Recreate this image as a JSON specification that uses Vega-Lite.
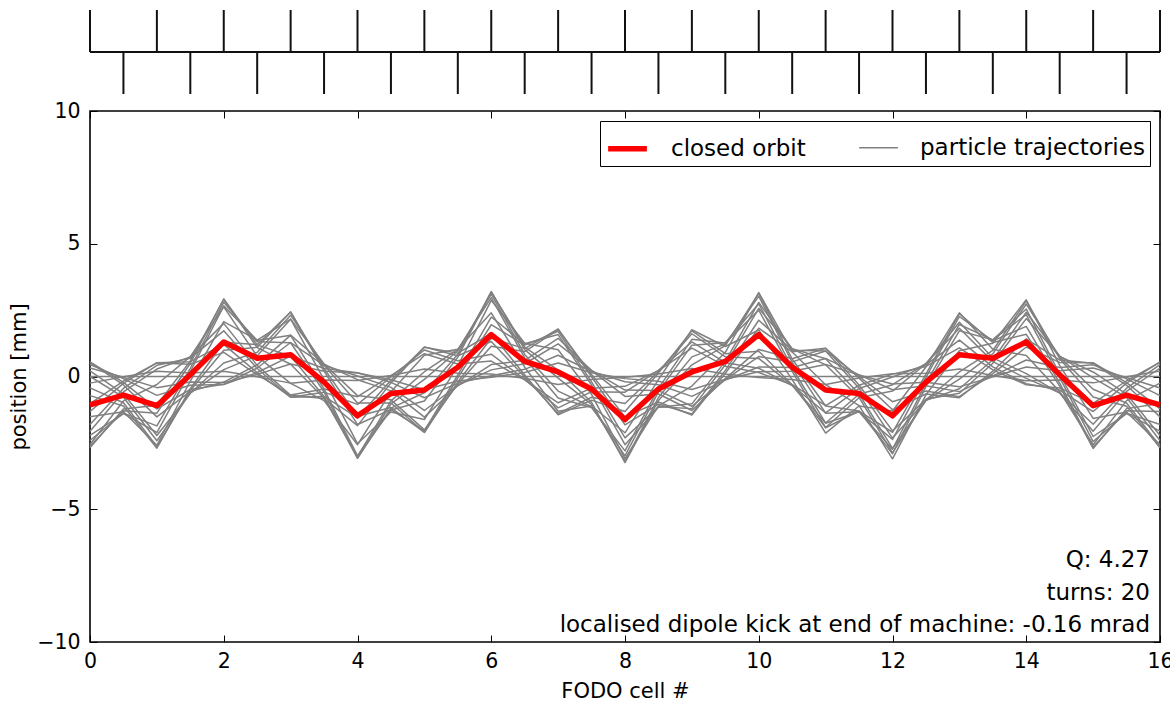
{
  "$schema": "https://vega.github.io/schema/vega-lite/v6.json",
  "padding": {"left": 7, "top": 9, "right": 0, "bottom": 0},
  "spacing": 17,
  "bounds": "flush",
  "resolve": {"legend": {"color": "independent", "strokeWidth": "independent"}},
  "config": {
    "font": "DejaVu Sans",
    "view": {"stroke": "black", "strokeWidth": 1.6},
    "axis": {"grid": false, "domain": false, "tickSize": -7, "tickColor": "black", "tickWidth": 1, "labelFlush": false, "labelFontSize": 20.5, "labelColor": "black", "labelFont": "DejaVu Sans", "titleFontSize": 21, "titleFontWeight": "normal", "titleColor": "black", "titleFont": "DejaVu Sans"},
    "legend": {"orient": "top-right", "offset": 10, "direction": "horizontal", "symbolType": "stroke", "symbolSize": 1500, "labelFontSize": 23, "labelColor": "black", "labelFont": "DejaVu Sans", "strokeColor": "black", "fillColor": "white", "padding": 5, "columnPadding": 50, "labelOffset": 21, "labelLimit": 500}
  },
  "vconcat": [
    {
      "width": 1070,
      "height": 84,
      "view": {"stroke": null},
      "data": {"values": [
        {"s": 0, "q": "F"}, {"s": 1, "q": "F"}, {"s": 2, "q": "F"}, {"s": 3, "q": "F"}, {"s": 4, "q": "F"}, {"s": 5, "q": "F"}, {"s": 6, "q": "F"}, {"s": 7, "q": "F"}, {"s": 8, "q": "F"}, {"s": 9, "q": "F"}, {"s": 10, "q": "F"}, {"s": 11, "q": "F"}, {"s": 12, "q": "F"}, {"s": 13, "q": "F"}, {"s": 14, "q": "F"}, {"s": 15, "q": "F"}, {"s": 16, "q": "F"},
        {"s": 0.5, "q": "D"}, {"s": 1.5, "q": "D"}, {"s": 2.5, "q": "D"}, {"s": 3.5, "q": "D"}, {"s": 4.5, "q": "D"}, {"s": 5.5, "q": "D"}, {"s": 6.5, "q": "D"}, {"s": 7.5, "q": "D"}, {"s": 8.5, "q": "D"}, {"s": 9.5, "q": "D"}, {"s": 10.5, "q": "D"}, {"s": 11.5, "q": "D"}, {"s": 12.5, "q": "D"}, {"s": 13.5, "q": "D"}, {"s": 14.5, "q": "D"}, {"s": 15.5, "q": "D"}
      ]},
      "layer": [
        {
          "transform": [{"filter": "datum.q === 'F'"}],
          "mark": {"type": "rule", "color": "#111111", "strokeWidth": 2},
          "encoding": {
            "x": {"field": "s", "type": "quantitative", "scale": {"domain": [0, 16], "nice": false, "zero": false}, "axis": null},
            "y": {"datum": 0, "type": "quantitative", "scale": {"domain": [-1, 1], "nice": false}, "axis": null},
            "y2": {"datum": 1}
          }
        },
        {
          "transform": [{"filter": "datum.q === 'D'"}],
          "mark": {"type": "rule", "color": "#111111", "strokeWidth": 2},
          "encoding": {
            "x": {"field": "s", "type": "quantitative", "axis": null},
            "y": {"datum": -1, "type": "quantitative", "axis": null},
            "y2": {"datum": 0}
          }
        },
        {
          "data": {"values": [{}]},
          "mark": {"type": "rule", "color": "#111111", "strokeWidth": 2},
          "encoding": {
            "x": {"datum": 0, "type": "quantitative", "axis": null},
            "x2": {"datum": 16},
            "y": {"datum": 0, "type": "quantitative", "axis": null}
          }
        }
      ]
    },
    {
      "width": 1070,
      "height": 531,
      "layer": [
        {
          "data": {"values": [
{"t":0,"s":0,"x":0},{"t":0,"s":0.5,"x":0},{"t":0,"s":1,"x":0},{"t":0,"s":1.5,"x":0},{"t":0,"s":2,"x":0},{"t":0,"s":2.5,"x":0},{"t":0,"s":3,"x":0},{"t":0,"s":3.5,"x":0},{"t":0,"s":4,"x":0},{"t":0,"s":4.5,"x":0},{"t":0,"s":5,"x":0},{"t":0,"s":5.5,"x":0},{"t":0,"s":6,"x":0},{"t":0,"s":6.5,"x":0},{"t":0,"s":7,"x":0},{"t":0,"s":7.5,"x":0},{"t":0,"s":8,"x":0},{"t":0,"s":8.5,"x":0},{"t":0,"s":9,"x":0},{"t":0,"s":9.5,"x":0},{"t":0,"s":10,"x":0},{"t":0,"s":10.5,"x":0},{"t":0,"s":11,"x":0},{"t":0,"s":11.5,"x":0},{"t":0,"s":12,"x":0},{"t":0,"s":12.5,"x":0},{"t":0,"s":13,"x":0},{"t":0,"s":13.5,"x":0},{"t":0,"s":14,"x":0},{"t":0,"s":14.5,"x":0},{"t":0,"s":15,"x":0},{"t":0,"s":15.5,"x":0},{"t":0,"s":16,"x":0},
{"t":1,"s":0,"x":0.00},{"t":1,"s":0.5,"x":-0.78},{"t":1,"s":1,"x":-2.42},{"t":1,"s":1.5,"x":-0.62},{"t":1,"s":2,"x":0.51},{"t":1,"s":2.5,"x":0.91},{"t":1,"s":3,"x":2.31},{"t":1,"s":3.5,"x":0.42},{"t":1,"s":4,"x":-1.00},{"t":1,"s":4.5,"x":-1.00},{"t":1,"s":5,"x":-2.10},{"t":1,"s":5.5,"x":-0.21},{"t":1,"s":6,"x":1.44},{"t":1,"s":6.5,"x":1.05},{"t":1,"s":7,"x":1.79},{"t":1,"s":7.5,"x":-0.01},{"t":1,"s":8,"x":-1.82},{"t":1,"s":8.5,"x":-1.04},{"t":1,"s":9,"x":-1.41},{"t":1,"s":9.5,"x":0.23},{"t":1,"s":10,"x":2.12},{"t":1,"s":10.5,"x":0.99},{"t":1,"s":11,"x":0.96},{"t":1,"s":11.5,"x":-0.44},{"t":1,"s":12,"x":-2.32},{"t":1,"s":12.5,"x":-0.90},{"t":1,"s":13,"x":-0.46},{"t":1,"s":13.5,"x":0.63},{"t":1,"s":14,"x":2.42},{"t":1,"s":14.5,"x":0.77},{"t":1,"s":15,"x":-0.05},{"t":1,"s":15.5,"x":-0.79},{"t":1,"s":16,"x":-2.41},
{"t":2,"s":0,"x":-2.41},{"t":2,"s":0.5,"x":-1.38},{"t":2,"s":1,"x":-1.86},{"t":2,"s":1.5,"x":0.31},{"t":2,"s":2,"x":2.80},{"t":2,"s":2.5,"x":1.31},{"t":2,"s":3,"x":1.27},{"t":2,"s":3.5,"x":-0.58},{"t":2,"s":4,"x":-3.07},{"t":2,"s":4.5,"x":-1.19},{"t":2,"s":5,"x":-0.61},{"t":2,"s":5.5,"x":0.84},{"t":2,"s":6,"x":3.20},{"t":2,"s":6.5,"x":1.01},{"t":2,"s":7,"x":-0.06},{"t":2,"s":7.5,"x":-1.05},{"t":2,"s":8,"x":-3.19},{"t":2,"s":8.5,"x":-0.79},{"t":2,"s":9,"x":0.74},{"t":2,"s":9.5,"x":1.22},{"t":2,"s":10,"x":3.03},{"t":2,"s":10.5,"x":0.53},{"t":2,"s":11,"x":-1.38},{"t":2,"s":11.5,"x":-1.33},{"t":2,"s":12,"x":-2.74},{"t":2,"s":12.5,"x":-0.25},{"t":2,"s":13,"x":1.96},{"t":2,"s":13.5,"x":1.38},{"t":2,"s":14,"x":2.33},{"t":2,"s":14.5,"x":-0.04},{"t":2,"s":15,"x":-2.45},{"t":2,"s":15.5,"x":-1.38},{"t":2,"s":16,"x":-1.81},
{"t":3,"s":0,"x":-1.81},{"t":3,"s":0.5,"x":-0.45},{"t":3,"s":1,"x":0.42},{"t":3,"s":1.5,"x":0.69},{"t":3,"s":2,"x":1.72},{"t":3,"s":2.5,"x":0.30},{"t":3,"s":3,"x":-0.78},{"t":3,"s":3.5,"x":-0.75},{"t":3,"s":4,"x":-1.55},{"t":3,"s":4.5,"x":-0.14},{"t":3,"s":5,"x":1.11},{"t":3,"s":5.5,"x":0.78},{"t":3,"s":6,"x":1.32},{"t":3,"s":6.5,"x":-0.02},{"t":3,"s":7,"x":-1.39},{"t":3,"s":7.5,"x":-0.78},{"t":3,"s":8,"x":-1.02},{"t":3,"s":8.5,"x":0.19},{"t":3,"s":9,"x":1.61},{"t":3,"s":9.5,"x":0.74},{"t":3,"s":10,"x":0.68},{"t":3,"s":10.5,"x":-0.34},{"t":3,"s":11,"x":-1.75},{"t":3,"s":11.5,"x":-0.67},{"t":3,"s":12,"x":-0.31},{"t":3,"s":12.5,"x":0.49},{"t":3,"s":13,"x":1.82},{"t":3,"s":13.5,"x":0.56},{"t":3,"s":14,"x":-0.07},{"t":3,"s":14.5,"x":-0.61},{"t":3,"s":15,"x":-1.80},{"t":3,"s":15.5,"x":-0.44},{"t":3,"s":16,"x":0.45},
{"t":4,"s":0,"x":0.45},{"t":4,"s":0.5,"x":-0.08},{"t":4,"s":1,"x":-0.71},{"t":4,"s":1.5,"x":-0.33},{"t":4,"s":2,"x":-0.30},{"t":4,"s":2.5,"x":0.15},{"t":4,"s":3,"x":0.77},{"t":4,"s":3.5,"x":0.30},{"t":4,"s":4,"x":0.14},{"t":4,"s":4.5,"x":-0.22},{"t":4,"s":5,"x":-0.80},{"t":4,"s":5.5,"x":-0.25},{"t":4,"s":6,"x":0.03},{"t":4,"s":6.5,"x":0.27},{"t":4,"s":7,"x":0.80},{"t":4,"s":7.5,"x":0.19},{"t":4,"s":8,"x":-0.20},{"t":4,"s":8.5,"x":-0.31},{"t":4,"s":9,"x":-0.75},{"t":4,"s":9.5,"x":-0.13},{"t":4,"s":10,"x":0.36},{"t":4,"s":10.5,"x":0.34},{"t":4,"s":11,"x":0.68},{"t":4,"s":11.5,"x":0.06},{"t":4,"s":12,"x":-0.50},{"t":4,"s":12.5,"x":-0.35},{"t":4,"s":13,"x":-0.57},{"t":4,"s":13.5,"x":0.02},{"t":4,"s":14,"x":0.62},{"t":4,"s":14.5,"x":0.34},{"t":4,"s":15,"x":0.44},{"t":4,"s":15.5,"x":-0.09},{"t":4,"s":16,"x":-0.72},
{"t":5,"s":0,"x":-0.72},{"t":5,"s":0.5,"x":-1.11},{"t":5,"s":1,"x":-2.70},{"t":5,"s":1.5,"x":-0.46},{"t":5,"s":2,"x":1.29},{"t":5,"s":2.5,"x":1.20},{"t":5,"s":3,"x":2.43},{"t":5,"s":3.5,"x":0.20},{"t":5,"s":4,"x":-1.81},{"t":5,"s":4.5,"x":-1.25},{"t":5,"s":5,"x":-2.05},{"t":5,"s":5.5,"x":0.06},{"t":5,"s":6,"x":2.24},{"t":5,"s":6.5,"x":1.23},{"t":5,"s":7,"x":1.58},{"t":5,"s":7.5,"x":-0.32},{"t":5,"s":8,"x":-2.57},{"t":5,"s":8.5,"x":-1.16},{"t":5,"s":9,"x":-1.03},{"t":5,"s":9.5,"x":0.57},{"t":5,"s":10,"x":2.79},{"t":5,"s":10.5,"x":1.04},{"t":5,"s":11,"x":0.44},{"t":5,"s":11.5,"x":-0.79},{"t":5,"s":12,"x":-2.88},{"t":5,"s":12.5,"x":-0.88},{"t":5,"s":13,"x":0.17},{"t":5,"s":13.5,"x":0.98},{"t":5,"s":14,"x":2.85},{"t":5,"s":14.5,"x":0.67},{"t":5,"s":15,"x":-0.77},{"t":5,"s":15.5,"x":-1.12},{"t":5,"s":16,"x":-2.68},
{"t":6,"s":0,"x":-2.68},{"t":6,"s":0.5,"x":-1.22},{"t":6,"s":1,"x":-1.08},{"t":6,"s":1.5,"x":0.59},{"t":6,"s":2,"x":2.91},{"t":6,"s":2.5,"x":1.09},{"t":6,"s":3,"x":0.46},{"t":6,"s":3.5,"x":-0.82},{"t":6,"s":4,"x":-3.01},{"t":6,"s":4.5,"x":-0.92},{"t":6,"s":5,"x":0.18},{"t":6,"s":5.5,"x":1.02},{"t":6,"s":6,"x":2.97},{"t":6,"s":6.5,"x":0.70},{"t":6,"s":7,"x":-0.81},{"t":6,"s":7.5,"x":-1.17},{"t":6,"s":8,"x":-2.80},{"t":6,"s":8.5,"x":-0.45},{"t":6,"s":9,"x":1.40},{"t":6,"s":9.5,"x":1.26},{"t":6,"s":10,"x":2.50},{"t":6,"s":10.5,"x":0.19},{"t":6,"s":11,"x":-1.93},{"t":6,"s":11.5,"x":-1.30},{"t":6,"s":12,"x":-2.10},{"t":6,"s":12.5,"x":0.09},{"t":6,"s":13,"x":2.37},{"t":6,"s":13.5,"x":1.28},{"t":6,"s":14,"x":1.59},{"t":6,"s":14.5,"x":-0.36},{"t":6,"s":15,"x":-2.71},{"t":6,"s":15.5,"x":-1.21},{"t":6,"s":16,"x":-1.02},
{"t":7,"s":0,"x":-1.02},{"t":7,"s":0.5,"x":-0.17},{"t":7,"s":1,"x":0.51},{"t":7,"s":1.5,"x":0.46},{"t":7,"s":2,"x":0.91},{"t":7,"s":2.5,"x":0.07},{"t":7,"s":3,"x":-0.70},{"t":7,"s":3.5,"x":-0.47},{"t":7,"s":4,"x":-0.76},{"t":7,"s":4.5,"x":0.03},{"t":7,"s":5,"x":0.86},{"t":7,"s":5.5,"x":0.47},{"t":7,"s":6,"x":0.58},{"t":7,"s":6.5,"x":-0.13},{"t":7,"s":7,"x":-0.99},{"t":7,"s":7.5,"x":-0.44},{"t":7,"s":8,"x":-0.37},{"t":7,"s":8.5,"x":0.22},{"t":7,"s":9,"x":1.07},{"t":7,"s":9.5,"x":0.39},{"t":7,"s":10,"x":0.15},{"t":7,"s":10.5,"x":-0.31},{"t":7,"s":11,"x":-1.10},{"t":7,"s":11.5,"x":-0.33},{"t":7,"s":12,"x":0.09},{"t":7,"s":12.5,"x":0.38},{"t":7,"s":13,"x":1.08},{"t":7,"s":13.5,"x":0.25},{"t":7,"s":14,"x":-0.31},{"t":7,"s":14.5,"x":-0.43},{"t":7,"s":15,"x":-1.01},{"t":7,"s":15.5,"x":-0.16},{"t":7,"s":16,"x":0.53},
{"t":8,"s":0,"x":0.53},{"t":8,"s":0.5,"x":-0.32},{"t":8,"s":1,"x":-1.52},{"t":8,"s":1.5,"x":-0.56},{"t":8,"s":2,"x":-0.21},{"t":8,"s":2.5,"x":0.44},{"t":8,"s":3,"x":1.56},{"t":8,"s":3.5,"x":0.46},{"t":8,"s":4,"x":-0.12},{"t":8,"s":4.5,"x":-0.54},{"t":8,"s":5,"x":-1.53},{"t":8,"s":5.5,"x":-0.35},{"t":8,"s":6,"x":0.45},{"t":8,"s":6.5,"x":0.61},{"t":8,"s":7,"x":1.44},{"t":8,"s":7.5,"x":0.22},{"t":8,"s":8,"x":-0.75},{"t":8,"s":8.5,"x":-0.66},{"t":8,"s":9,"x":-1.28},{"t":8,"s":9.5,"x":-0.08},{"t":8,"s":10,"x":1.02},{"t":8,"s":10.5,"x":0.67},{"t":8,"s":11,"x":1.06},{"t":8,"s":11.5,"x":-0.06},{"t":8,"s":12,"x":-1.25},{"t":8,"s":12.5,"x":-0.66},{"t":8,"s":13,"x":-0.80},{"t":8,"s":13.5,"x":0.20},{"t":8,"s":14,"x":1.42},{"t":8,"s":14.5,"x":0.62},{"t":8,"s":15,"x":0.50},{"t":8,"s":15.5,"x":-0.33},{"t":8,"s":16,"x":-1.52},
{"t":9,"s":0,"x":-1.52},{"t":9,"s":0.5,"x":-1.33},{"t":9,"s":1,"x":-2.59},{"t":9,"s":1.5,"x":-0.17},{"t":9,"s":2,"x":2.07},{"t":9,"s":2.5,"x":1.37},{"t":9,"s":3,"x":2.16},{"t":9,"s":3.5,"x":-0.12},{"t":9,"s":4,"x":-2.53},{"t":9,"s":4.5,"x":-1.34},{"t":9,"s":5,"x":-1.62},{"t":9,"s":5.5,"x":0.40},{"t":9,"s":6,"x":2.87},{"t":9,"s":6.5,"x":1.25},{"t":9,"s":7,"x":1.01},{"t":9,"s":7.5,"x":-0.67},{"t":9,"s":8,"x":-3.09},{"t":9,"s":8.5,"x":-1.11},{"t":9,"s":9,"x":-0.36},{"t":9,"s":9.5,"x":0.91},{"t":9,"s":10,"x":3.16},{"t":9,"s":10.5,"x":0.92},{"t":9,"s":11,"x":-0.31},{"t":9,"s":11.5,"x":-1.10},{"t":9,"s":12,"x":-3.10},{"t":9,"s":12.5,"x":-0.69},{"t":9,"s":13,"x":0.97},{"t":9,"s":13.5,"x":1.25},{"t":9,"s":14,"x":2.89},{"t":9,"s":14.5,"x":0.42},{"t":9,"s":15,"x":-1.58},{"t":9,"s":15.5,"x":-1.34},{"t":9,"s":16,"x":-2.56},
{"t":10,"s":0,"x":-2.56},{"t":10,"s":0.5,"x":-0.92},{"t":10,"s":1,"x":-0.30},{"t":10,"s":1.5,"x":0.75},{"t":10,"s":2,"x":2.62},{"t":10,"s":2.5,"x":0.76},{"t":10,"s":3,"x":-0.26},{"t":10,"s":3.5,"x":-0.91},{"t":10,"s":4,"x":-2.57},{"t":10,"s":4.5,"x":-0.57},{"t":10,"s":5,"x":0.80},{"t":10,"s":5.5,"x":1.03},{"t":10,"s":6,"x":2.40},{"t":10,"s":6.5,"x":0.35},{"t":10,"s":7,"x":-1.31},{"t":10,"s":7.5,"x":-1.11},{"t":10,"s":8,"x":-2.12},{"t":10,"s":8.5,"x":-0.12},{"t":10,"s":9,"x":1.76},{"t":10,"s":9.5,"x":1.13},{"t":10,"s":10,"x":1.75},{"t":10,"s":10.5,"x":-0.12},{"t":10,"s":11,"x":-2.13},{"t":10,"s":11.5,"x":-1.11},{"t":10,"s":12,"x":-1.30},{"t":10,"s":12.5,"x":0.36},{"t":10,"s":13,"x":2.40},{"t":10,"s":13.5,"x":1.03},{"t":10,"s":14,"x":0.79},{"t":10,"s":14.5,"x":-0.57},{"t":10,"s":15,"x":-2.57},{"t":10,"s":15.5,"x":-0.91},{"t":10,"s":16,"x":-0.25},
{"t":11,"s":0,"x":-0.25},{"t":11,"s":0.5,"x":-0.01},{"t":11,"s":1,"x":0.20},{"t":11,"s":1.5,"x":0.13},{"t":11,"s":2,"x":0.20},{"t":11,"s":2.5,"x":-0.01},{"t":11,"s":3,"x":-0.25},{"t":11,"s":3.5,"x":-0.13},{"t":11,"s":4,"x":-0.15},{"t":11,"s":4.5,"x":0.04},{"t":11,"s":5,"x":0.28},{"t":11,"s":5.5,"x":0.12},{"t":11,"s":6,"x":0.09},{"t":11,"s":6.5,"x":-0.07},{"t":11,"s":7,"x":-0.30},{"t":11,"s":7.5,"x":-0.11},{"t":11,"s":8,"x":-0.03},{"t":11,"s":8.5,"x":0.09},{"t":11,"s":9,"x":0.30},{"t":11,"s":9.5,"x":0.09},{"t":11,"s":10,"x":-0.04},{"t":11,"s":10.5,"x":-0.11},{"t":11,"s":11,"x":-0.30},{"t":11,"s":11.5,"x":-0.06},{"t":11,"s":12,"x":0.10},{"t":11,"s":12.5,"x":0.12},{"t":11,"s":13,"x":0.28},{"t":11,"s":13.5,"x":0.04},{"t":11,"s":14,"x":-0.16},{"t":11,"s":14.5,"x":-0.13},{"t":11,"s":15,"x":-0.24},{"t":11,"s":15.5,"x":-0.01},{"t":11,"s":16,"x":0.21},
{"t":12,"s":0,"x":0.21},{"t":12,"s":0.5,"x":-0.65},{"t":12,"s":1,"x":-2.22},{"t":12,"s":1.5,"x":-0.63},{"t":12,"s":2,"x":0.26},{"t":12,"s":2.5,"x":0.78},{"t":12,"s":3,"x":2.16},{"t":12,"s":3.5,"x":0.47},{"t":12,"s":4,"x":-0.72},{"t":12,"s":4.5,"x":-0.88},{"t":12,"s":5,"x":-2.01},{"t":12,"s":5.5,"x":-0.28},{"t":12,"s":6,"x":1.14},{"t":12,"s":6.5,"x":0.94},{"t":12,"s":7,"x":1.77},{"t":12,"s":7.5,"x":0.08},{"t":12,"s":8,"x":-1.52},{"t":12,"s":8.5,"x":-0.96},{"t":12,"s":9,"x":-1.45},{"t":12,"s":9.5,"x":0.12},{"t":12,"s":10,"x":1.82},{"t":12,"s":10.5,"x":0.93},{"t":12,"s":11,"x":1.06},{"t":12,"s":11.5,"x":-0.32},{"t":12,"s":12,"x":-2.05},{"t":12,"s":12.5,"x":-0.86},{"t":12,"s":13,"x":-0.63},{"t":12,"s":13.5,"x":0.50},{"t":12,"s":14,"x":2.18},{"t":12,"s":14.5,"x":0.76},{"t":12,"s":15,"x":0.17},{"t":12,"s":15.5,"x":-0.66},{"t":12,"s":16,"x":-2.22},
{"t":13,"s":0,"x":-2.22},{"t":13,"s":0.5,"x":-1.40},{"t":13,"s":1,"x":-2.11},{"t":13,"s":1.5,"x":0.18},{"t":13,"s":2,"x":2.66},{"t":13,"s":2.5,"x":1.36},{"t":13,"s":3,"x":1.55},{"t":13,"s":3.5,"x":-0.47},{"t":13,"s":4,"x":-2.99},{"t":13,"s":4.5,"x":-1.26},{"t":13,"s":5,"x":-0.92},{"t":13,"s":5.5,"x":0.73},{"t":13,"s":6,"x":3.19},{"t":13,"s":6.5,"x":1.11},{"t":13,"s":7,"x":0.24},{"t":13,"s":7.5,"x":-0.97},{"t":13,"s":8,"x":-3.24},{"t":13,"s":8.5,"x":-0.90},{"t":13,"s":9,"x":0.44},{"t":13,"s":9.5,"x":1.16},{"t":13,"s":10,"x":3.14},{"t":13,"s":10.5,"x":0.66},{"t":13,"s":11,"x":-1.11},{"t":13,"s":11.5,"x":-1.30},{"t":13,"s":12,"x":-2.91},{"t":13,"s":12.5,"x":-0.38},{"t":13,"s":13,"x":1.72},{"t":13,"s":13.5,"x":1.38},{"t":13,"s":14,"x":2.54},{"t":13,"s":14.5,"x":0.09},{"t":13,"s":15,"x":-2.26},{"t":13,"s":15.5,"x":-1.40},{"t":13,"s":16,"x":-2.06},
{"t":14,"s":0,"x":-2.06},{"t":14,"s":0.5,"x":-0.58},{"t":14,"s":1,"x":0.28},{"t":14,"s":1.5,"x":0.74},{"t":14,"s":2,"x":2.00},{"t":14,"s":2.5,"x":0.42},{"t":14,"s":3,"x":-0.71},{"t":14,"s":3.5,"x":-0.83},{"t":14,"s":4,"x":-1.85},{"t":14,"s":4.5,"x":-0.24},{"t":14,"s":5,"x":1.10},{"t":14,"s":5.5,"x":0.88},{"t":14,"s":6,"x":1.62},{"t":14,"s":6.5,"x":0.06},{"t":14,"s":7,"x":-1.44},{"t":14,"s":7.5,"x":-0.89},{"t":14,"s":8,"x":-1.32},{"t":14,"s":8.5,"x":0.13},{"t":14,"s":9,"x":1.72},{"t":14,"s":9.5,"x":0.86},{"t":14,"s":10,"x":0.95},{"t":14,"s":10.5,"x":-0.31},{"t":14,"s":11,"x":-1.92},{"t":14,"s":11.5,"x":-0.80},{"t":14,"s":12,"x":-0.55},{"t":14,"s":12.5,"x":0.48},{"t":14,"s":13,"x":2.04},{"t":14,"s":13.5,"x":0.70},{"t":14,"s":14,"x":0.11},{"t":14,"s":14.5,"x":-0.63},{"t":14,"s":15,"x":-2.06},{"t":14,"s":15.5,"x":-0.56},{"t":14,"s":16,"x":0.32},
{"t":15,"s":0,"x":0.32},{"t":15,"s":0.5,"x":-0.03},{"t":15,"s":1,"x":-0.42},{"t":15,"s":1.5,"x":-0.21},{"t":15,"s":2,"x":-0.23},{"t":15,"s":2.5,"x":0.08},{"t":15,"s":3,"x":0.47},{"t":15,"s":3.5,"x":0.20},{"t":15,"s":4,"x":0.13},{"t":15,"s":4.5,"x":-0.12},{"t":15,"s":5,"x":-0.50},{"t":15,"s":5.5,"x":-0.17},{"t":15,"s":6,"x":-0.03},{"t":15,"s":6.5,"x":0.15},{"t":15,"s":7,"x":0.51},{"t":15,"s":7.5,"x":0.14},{"t":15,"s":8,"x":-0.08},{"t":15,"s":8.5,"x":-0.18},{"t":15,"s":9,"x":-0.49},{"t":15,"s":9.5,"x":-0.10},{"t":15,"s":10,"x":0.18},{"t":15,"s":10.5,"x":0.20},{"t":15,"s":11,"x":0.45},{"t":15,"s":11.5,"x":0.06},{"t":15,"s":12,"x":-0.28},{"t":15,"s":12.5,"x":-0.22},{"t":15,"s":13,"x":-0.39},{"t":15,"s":13.5,"x":-0.01},{"t":15,"s":14,"x":0.36},{"t":15,"s":14.5,"x":0.22},{"t":15,"s":15,"x":0.32},{"t":15,"s":15.5,"x":-0.04},{"t":15,"s":16,"x":-0.43},
{"t":16,"s":0,"x":-0.43},{"t":16,"s":0.5,"x":-0.99},{"t":16,"s":1,"x":-2.64},{"t":16,"s":1.5,"x":-0.53},{"t":16,"s":2,"x":0.99},{"t":16,"s":2.5,"x":1.10},{"t":16,"s":3,"x":2.43},{"t":16,"s":3.5,"x":0.30},{"t":16,"s":4,"x":-1.50},{"t":16,"s":4.5,"x":-1.17},{"t":16,"s":5,"x":-2.11},{"t":16,"s":5.5,"x":-0.05},{"t":16,"s":6,"x":1.95},{"t":16,"s":6.5,"x":1.18},{"t":16,"s":7,"x":1.70},{"t":16,"s":7.5,"x":-0.20},{"t":16,"s":8,"x":-2.31},{"t":16,"s":8.5,"x":-1.14},{"t":16,"s":9,"x":-1.21},{"t":16,"s":9.5,"x":0.44},{"t":16,"s":10,"x":2.57},{"t":16,"s":10.5,"x":1.05},{"t":16,"s":11,"x":0.67},{"t":16,"s":11.5,"x":-0.66},{"t":16,"s":12,"x":-2.71},{"t":16,"s":12.5,"x":-0.91},{"t":16,"s":13,"x":-0.10},{"t":16,"s":13.5,"x":0.85},{"t":16,"s":14,"x":2.73},{"t":16,"s":14.5,"x":0.73},{"t":16,"s":15,"x":-0.48},{"t":16,"s":15.5,"x":-1.00},{"t":16,"s":16,"x":-2.63},
{"t":17,"s":0,"x":-2.63},{"t":17,"s":0.5,"x":-1.29},{"t":17,"s":1,"x":-1.38},{"t":17,"s":1.5,"x":0.50},{"t":17,"s":2,"x":2.92},{"t":17,"s":2.5,"x":1.19},{"t":17,"s":3,"x":0.76},{"t":17,"s":3.5,"x":-0.75},{"t":17,"s":4,"x":-3.08},{"t":17,"s":4.5,"x":-1.03},{"t":17,"s":5,"x":-0.11},{"t":17,"s":5.5,"x":0.97},{"t":17,"s":6,"x":3.10},{"t":17,"s":6.5,"x":0.83},{"t":17,"s":7,"x":-0.55},{"t":17,"s":7.5,"x":-1.14},{"t":17,"s":8,"x":-2.99},{"t":17,"s":8.5,"x":-0.58},{"t":17,"s":9,"x":1.18},{"t":17,"s":9.5,"x":1.27},{"t":17,"s":10,"x":2.74},{"t":17,"s":10.5,"x":0.32},{"t":17,"s":11,"x":-1.76},{"t":17,"s":11.5,"x":-1.33},{"t":17,"s":12,"x":-2.37},{"t":17,"s":12.5,"x":-0.03},{"t":17,"s":13,"x":2.26},{"t":17,"s":13.5,"x":1.34},{"t":17,"s":14,"x":1.89},{"t":17,"s":14.5,"x":-0.25},{"t":17,"s":15,"x":-2.66},{"t":17,"s":15.5,"x":-1.29},{"t":17,"s":16,"x":-1.32},
{"t":18,"s":0,"x":-1.32},{"t":18,"s":0.5,"x":-0.26},{"t":18,"s":1,"x":0.52},{"t":18,"s":1.5,"x":0.56},{"t":18,"s":2,"x":1.21},{"t":18,"s":2.5,"x":0.14},{"t":18,"s":3,"x":-0.78},{"t":18,"s":3.5,"x":-0.59},{"t":18,"s":4,"x":-1.05},{"t":18,"s":4.5,"x":-0.02},{"t":18,"s":5,"x":1.00},{"t":18,"s":5.5,"x":0.59},{"t":18,"s":6,"x":0.84},{"t":18,"s":6.5,"x":-0.11},{"t":18,"s":7,"x":-1.18},{"t":18,"s":7.5,"x":-0.57},{"t":18,"s":8,"x":-0.59},{"t":18,"s":8.5,"x":0.23},{"t":18,"s":9,"x":1.30},{"t":18,"s":9.5,"x":0.52},{"t":18,"s":10,"x":0.31},{"t":18,"s":10.5,"x":-0.34},{"t":18,"s":11,"x":-1.37},{"t":18,"s":11.5,"x":-0.45},{"t":18,"s":12,"x":-0.02},{"t":18,"s":12.5,"x":0.44},{"t":18,"s":13,"x":1.37},{"t":18,"s":13.5,"x":0.36},{"t":18,"s":14,"x":-0.27},{"t":18,"s":14.5,"x":-0.51},{"t":18,"s":15,"x":-1.32},{"t":18,"s":15.5,"x":-0.25},{"t":18,"s":16,"x":0.55},
{"t":19,"s":0,"x":0.55},{"t":19,"s":0.5,"x":-0.22},{"t":19,"s":1,"x":-1.22},{"t":19,"s":1.5,"x":-0.49},{"t":19,"s":2,"x":-0.29},{"t":19,"s":2.5,"x":0.32},{"t":19,"s":3,"x":1.28},{"t":19,"s":3.5,"x":0.42},{"t":19,"s":4,"x":0.02},{"t":19,"s":4.5,"x":-0.41},{"t":19,"s":5,"x":-1.28},{"t":19,"s":5.5,"x":-0.33},{"t":19,"s":6,"x":0.25},{"t":19,"s":6.5,"x":0.48},{"t":19,"s":7,"x":1.23},{"t":19,"s":7.5,"x":0.23},{"t":19,"s":8,"x":-0.51},{"t":19,"s":8.5,"x":-0.53},{"t":19,"s":9,"x":-1.12},{"t":19,"s":9.5,"x":-0.12},{"t":19,"s":10,"x":0.75},{"t":19,"s":10.5,"x":0.55},{"t":19,"s":11,"x":0.96},{"t":19,"s":11.5,"x":0.00},{"t":19,"s":12,"x":-0.95},{"t":19,"s":12.5,"x":-0.55},{"t":19,"s":13,"x":-0.76},{"t":19,"s":13.5,"x":0.11},{"t":19,"s":14,"x":1.11},{"t":19,"s":14.5,"x":0.53},{"t":19,"s":15,"x":0.52},{"t":19,"s":15.5,"x":-0.23},{"t":19,"s":16,"x":-1.22}
          ]},
          "mark": {"type": "line", "strokeJoin": "round"},
          "encoding": {
            "x": {"field": "s", "type": "quantitative", "scale": {"domain": [0, 16], "nice": false, "zero": false}, "axis": {"orient": "bottom", "values": [0, 2, 4, 6, 8, 10, 12, 14, 16], "title": "FODO cell #", "labelPadding": 16, "titlePadding": 9}},
            "y": {"field": "x", "type": "quantitative", "scale": {"domain": [-10, 10], "nice": false}, "axis": {"orient": "left", "values": [-10, -5, 0, 5, 10], "title": "position [mm]", "labelPadding": 17, "titlePadding": 7}},
            "detail": {"field": "t", "type": "nominal"},
            "color": {"datum": "particle trajectories", "type": "nominal", "scale": {"domain": ["closed orbit", "particle trajectories"], "range": ["#ff0000", "#808080"]}, "legend": {"title": null}},
            "strokeWidth": {"datum": "particle trajectories", "type": "nominal", "scale": {"domain": ["closed orbit", "particle trajectories"], "range": [5.5, 1.5]}, "legend": {"title": null}}
          }
        },
        {
          "data": {"values": [
{"s":0,"x":-1.07},{"s":0.5,"x":-0.70},{"s":1,"x":-1.10},{"s":1.5,"x":0.07},{"s":2,"x":1.30},{"s":2.5,"x":0.69},{"s":3,"x":0.82},{"s":3.5,"x":-0.21},{"s":4,"x":-1.48},{"s":4.5,"x":-0.64},{"s":5,"x":-0.51},{"s":5.5,"x":0.35},{"s":6,"x":1.58},{"s":6.5,"x":0.57},{"s":7,"x":0.17},{"s":7.5,"x":-0.47},{"s":8,"x":-1.62},{"s":8.5,"x":-0.47},{"s":9,"x":0.17},{"s":9.5,"x":0.57},{"s":10,"x":1.58},{"s":10.5,"x":0.35},{"s":11,"x":-0.51},{"s":11.5,"x":-0.64},{"s":12,"x":-1.48},{"s":12.5,"x":-0.21},{"s":13,"x":0.82},{"s":13.5,"x":0.69},{"s":14,"x":1.30},{"s":14.5,"x":0.07},{"s":15,"x":-1.10},{"s":15.5,"x":-0.70},{"s":16,"x":-1.07}
          ]},
          "mark": {"type": "line", "strokeJoin": "round"},
          "encoding": {
            "x": {"field": "s", "type": "quantitative", "axis": {"orient": "top", "values": [0, 2, 4, 6, 8, 10, 12, 14, 16], "labels": false, "title": null}},
            "y": {"field": "x", "type": "quantitative", "axis": {"orient": "right", "values": [-10, -5, 0, 5, 10], "labels": false, "title": null}},
            "color": {"datum": "closed orbit", "type": "nominal"},
            "strokeWidth": {"datum": "closed orbit", "type": "nominal"}
          }
        },
        {
          "data": {"values": [{}]},
          "mark": {"type": "text", "text": ["Q: 4.27", "turns: 20", "localised dipole kick at end of machine: -0.16 mrad"], "align": "right", "baseline": "bottom", "fontSize": 23, "lineHeight": 32.5, "dx": -10, "dy": -70, "color": "black", "font": "DejaVu Sans"},
          "encoding": {
            "x": {"datum": 16, "type": "quantitative", "axis": null},
            "y": {"datum": -10, "type": "quantitative", "axis": null}
          }
        }
      ],
      "resolve": {"axis": {"x": "independent", "y": "independent"}}
    }
  ]
}
